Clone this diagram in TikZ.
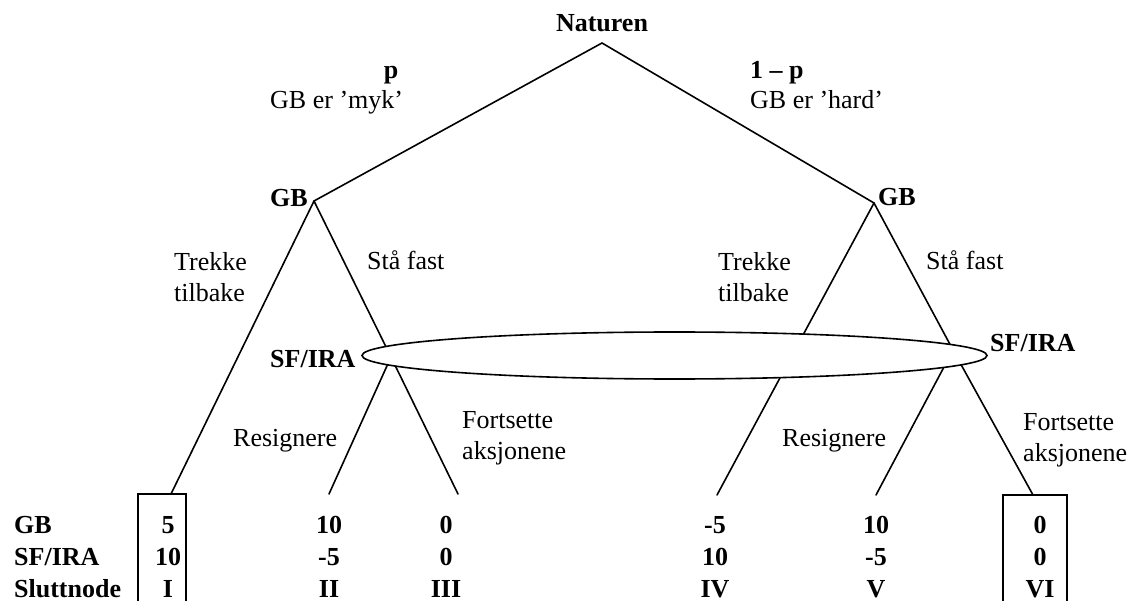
\documentclass[tikz,border=0pt]{standalone}
\usepackage{fontspec}
\setmainfont{Liberation Serif}
\usetikzlibrary{shapes.geometric}
\begin{document}
\begin{tikzpicture}[x=1pt,y=-1pt,
  edge/.style={line width=1.6pt, line cap=round},
  lbl/.style={font=\fontsize{26}{31}\selectfont, inner sep=0pt, align=left},
  blbl/.style={font=\fontsize{26}{31}\selectfont\bfseries, inner sep=0pt},
  infoset/.style={draw, ellipse, line width=1.6pt, fill=white, inner sep=0pt,
    minimum width=625pt, minimum height=47pt}]
\useasboundingbox (0,0) rectangle (1132,601);
% decision points
\coordinate (nat) at (602,43);
\coordinate (gbl) at (314,201);
\coordinate (gbr) at (874,203);
\coordinate (sfl) at (391,357);
\coordinate (sfr) at (953,350);
\coordinate (t1) at (171,494);
\coordinate (t2) at (329,494);
\coordinate (t3) at (458,494);
\coordinate (t4) at (717,495);
\coordinate (t5) at (876,495);
\coordinate (t6) at (1033,495);
% branches
\draw[edge] (nat) -- (gbl);
\draw[edge] (nat) -- (gbr);
\draw[edge] (gbl) -- (t1);
\draw[edge] (gbl) -- (sfl);
\draw[edge] (gbr) -- (t4);
\draw[edge] (gbr) -- (sfr);
\draw[edge] (sfl) -- (t2);
\draw[edge] (sfl) -- (t3);
\draw[edge] (sfr) -- (t5);
\draw[edge] (sfr) -- (t6);
% information set
\node[infoset] (info) at (674.5,355.5) {};
% boxes
\draw[line width=1.6pt] (138,601) |- (t1) -| (186,601);
\draw[line width=1.6pt] (1003,601) |- (t6) -| (1067,601);
% labels
\node[blbl, anchor=base] (lnat) at (602,32) {Naturen};
\node[blbl, anchor=base] (lp) at (391,79) {p};
\node[lbl, anchor=base west] (lmyk) at (270,109) {GB er ’myk’};
\node[blbl, anchor=base west] (l1p) at (750,79) {1 – p};
\node[lbl, anchor=base west] (lhard) at (750,109) {GB er ’hard’};
\node[blbl, anchor=base west] (lgbl) at (270,207) {GB};
\node[blbl, anchor=base west] (lgbr) at (878,206) {GB};
\node[lbl, anchor=north west] (ltl) at (174,252) {Trekke\\tilbake};
\node[lbl, anchor=north west] (ltr) at (718,252) {Trekke\\tilbake};
\node[lbl, anchor=base west] (lsl) at (367,270) {Stå fast};
\node[lbl, anchor=base west] (lsr) at (926,270) {Stå fast};
\node[blbl, anchor=base west] (lsfl) at (270,367) {SF/IRA};
\node[blbl, anchor=base west] (lsfr) at (990,352) {SF/IRA};
\node[lbl, anchor=base west] (lrl) at (233,446) {Resignere};
\node[lbl, anchor=base west] (lrr) at (782,446) {Resignere};
\node[lbl, anchor=north west] (lfl) at (462,411) {Fortsette\\aksjonene};
\node[lbl, anchor=north west] (lfr) at (1023,413) {Fortsette\\aksjonene};
% table
\node[blbl, anchor=base west] (rgb) at (14,533) {GB};
\node[blbl, anchor=base west] (rsf) at (14,565) {SF/IRA};
\node[blbl, anchor=base west] (rsl) at (14,597) {Sluttnode};
\node[blbl, anchor=base] (a1) at (168,533) {5};
\node[blbl, anchor=base] (b1) at (168,565) {10};
\node[blbl, anchor=base] (c1) at (168,597) {I};
\node[blbl, anchor=base] (a2) at (329,533) {10};
\node[blbl, anchor=base] (b2) at (329,565) {-5};
\node[blbl, anchor=base] (c2) at (329,597) {II};
\node[blbl, anchor=base] (a3) at (446,533) {0};
\node[blbl, anchor=base] (b3) at (446,565) {0};
\node[blbl, anchor=base] (c3) at (446,597) {III};
\node[blbl, anchor=base] (a4) at (715,533) {-5};
\node[blbl, anchor=base] (b4) at (715,565) {10};
\node[blbl, anchor=base] (c4) at (715,597) {IV};
\node[blbl, anchor=base] (a5) at (876,533) {10};
\node[blbl, anchor=base] (b5) at (876,565) {-5};
\node[blbl, anchor=base] (c5) at (876,597) {V};
\node[blbl, anchor=base] (a6) at (1040,533) {0};
\node[blbl, anchor=base] (b6) at (1040,565) {0};
\node[blbl, anchor=base] (c6) at (1040,597) {VI};
\end{tikzpicture}
\end{document}
